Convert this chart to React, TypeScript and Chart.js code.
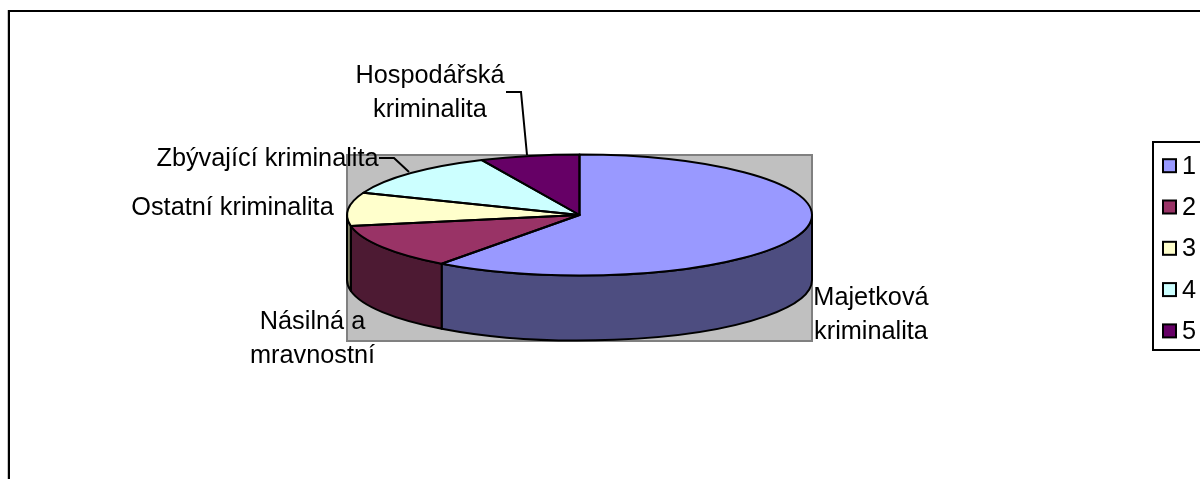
import React, { useEffect, useRef } from "react";
import { Chart, registerables } from "chart.js";

Chart.register(...registerables);

const categories = ["1", "2", "3", "4", "5"];
const sliceNames = [
  "Majetková kriminalita",
  "Násilná a mravnostní",
  "Ostatní kriminalita",
  "Zbývající kriminalita",
  "Hospodářská kriminalita",
];
const shares = [60.1, 12.0, 8.9, 12.1, 6.9];
const topColors = ["#9999FF", "#993366", "#FFFFCC", "#CCFFFF", "#660066"];
const sideColors = ["#4D4D80", "#4D1A33", "#808066", "#668080", "#330033"];

const FONT = '25.3px "Liberation Sans", Arial, sans-serif';
const PIE = { cx: 579.5, cy: 215, rx: 232.5, ry: 60.5, depth: 65 };
const PLATE = { left: 347, top: 155, right: 812, bottom: 341 };

const labelLayout = [
  { x: 871, lines: [{ text: "Majetková", y: 305 }, { text: "kriminalita", y: 339 }] },
  { x: 312.5, lines: [{ text: "Násilná a", y: 329 }, { text: "mravnostní", y: 363 }] },
  { x: 232.5, lines: [{ text: "Ostatní kriminalita", y: 215 }] },
  { x: 267.5, lines: [{ text: "Zbývající kriminalita", y: 166 }] },
  { x: 430, lines: [{ text: "Hospodářská", y: 83 }, { text: "kriminalita", y: 117 }] },
];

const pie3d = {
  id: "pie3d",
  beforeDraw(chart: any) {
    const { ctx } = chart;
    ctx.save();
    ctx.fillStyle = "#FFFFFF";
    ctx.fillRect(0, 0, chart.width, chart.height);
    // chart frame
    ctx.strokeStyle = "#C8C8C8";
    ctx.lineWidth = 1;
    ctx.beginPath();
    ctx.moveTo(7.5, 10);
    ctx.lineTo(7.5, chart.height);
    ctx.stroke();
    ctx.strokeStyle = "#000000";
    ctx.lineWidth = 2;
    ctx.beginPath();
    ctx.moveTo(chart.width, 11);
    ctx.lineTo(9, 11);
    ctx.lineTo(9, chart.height);
    ctx.stroke();
    // plot plate
    ctx.fillStyle = "#C0C0C0";
    ctx.strokeStyle = "#808080";
    ctx.lineWidth = 2;
    ctx.beginPath();
    ctx.rect(PLATE.left, PLATE.top, PLATE.right - PLATE.left, PLATE.bottom - PLATE.top);
    ctx.fill();
    ctx.stroke();
    ctx.restore();
  },
  beforeDatasetDraw(chart: any) {
    const { ctx } = chart;
    const arcs = chart.getDatasetMeta(0).data;
    // extruded wall: only the part of each slice facing the viewer
    ctx.save();
    ctx.lineWidth = 2;
    ctx.strokeStyle = "#000000";
    ctx.lineJoin = "round";
    arcs.forEach((arc: any, i: number) => {
      const a = arc.startAngle;
      const b = arc.endAngle;
      const from = Math.max(a, 0);
      const to = Math.min(b, Math.PI);
      if (to <= from) return;
      ctx.fillStyle = sideColors[i];
      ctx.beginPath();
      ctx.ellipse(PIE.cx, PIE.cy, PIE.rx, PIE.ry, 0, from, to);
      ctx.ellipse(PIE.cx, PIE.cy + PIE.depth, PIE.rx, PIE.ry, 0, to, from, true);
      ctx.closePath();
      ctx.fill();
      ctx.stroke();
    });
    ctx.restore();
    // squash the library's round pie into the tilted top face
    const first = arcs[0];
    const k = PIE.ry / first.outerRadius;
    const h = PIE.rx / first.outerRadius;
    ctx.save();
    ctx.translate(PIE.cx, PIE.cy);
    ctx.scale(h, k);
    ctx.translate(-first.x, -first.y);
  },
  afterDatasetDraw(chart: any) {
    const { ctx } = chart;
    ctx.restore();
    const arcs = chart.getDatasetMeta(0).data;
    ctx.save();
    ctx.lineWidth = 2;
    ctx.strokeStyle = "#000000";
    ctx.lineJoin = "round";
    arcs.forEach((arc: any) => {
      ctx.beginPath();
      ctx.moveTo(PIE.cx, PIE.cy);
      ctx.ellipse(PIE.cx, PIE.cy, PIE.rx, PIE.ry, 0, arc.startAngle, arc.endAngle);
      ctx.closePath();
      ctx.stroke();
    });
    ctx.restore();
  },
  afterDraw(chart: any) {
    const { ctx } = chart;
    ctx.save();
    ctx.font = FONT;
    ctx.fillStyle = "#000000";
    ctx.textBaseline = "alphabetic";
    ctx.textAlign = "center";
    labelLayout.forEach((l) => l.lines.forEach((ln) => ctx.fillText(ln.text, l.x, ln.y)));
    // leader lines
    ctx.strokeStyle = "#000000";
    ctx.lineWidth = 2;
    ctx.beginPath();
    ctx.moveTo(379, 158);
    ctx.lineTo(394, 158);
    ctx.lineTo(409, 172);
    ctx.moveTo(506, 92);
    ctx.lineTo(521, 92);
    ctx.lineTo(527, 155);
    ctx.stroke();
    // legend
    ctx.strokeStyle = "#000000";
    ctx.lineWidth = 2;
    ctx.beginPath();
    ctx.moveTo(chart.width, 142);
    ctx.lineTo(1153, 142);
    ctx.lineTo(1153, 350);
    ctx.lineTo(chart.width, 350);
    ctx.stroke();
    ctx.textAlign = "left";
    ctx.textBaseline = "middle";
    categories.forEach((c, i) => {
      const y = 165.7 + i * 41.3;
      ctx.fillStyle = topColors[i];
      ctx.fillRect(1163, y - 6.5, 13, 13);
      ctx.strokeStyle = "#000000";
      ctx.lineWidth = 2;
      ctx.strokeRect(1163, y - 6.5, 13, 13);
      ctx.fillStyle = "#000000";
      ctx.fillText(c, 1182, y + 1);
    });
    ctx.restore();
  },
};

export default function App() {
  const ref = useRef<HTMLCanvasElement>(null);
  useEffect(() => {
    const chart = new Chart(ref.current as HTMLCanvasElement, {
      type: "pie",
      data: {
        labels: categories,
        datasets: [
          {
            label: "Kriminalita",
            data: shares,
            backgroundColor: topColors,
            borderWidth: 0,
            clip: false,
          } as any,
        ],
      },
      options: {
        responsive: false,
        animation: false,
        layout: { padding: { left: 347, right: 388, top: 7, bottom: 7 } },
        plugins: {
          legend: { display: false },
          tooltip: { enabled: false },
          title: { display: false },
        },
      },
      plugins: [pie3d],
    });
    return () => chart.destroy();
  }, []);
  return (
    <canvas
      ref={ref}
      width={1200}
      height={479}
      aria-label={sliceNames.join(", ")}
      style={{ position: "absolute", left: 0, top: 0, width: 1200, height: 479 }}
    />
  );
}
